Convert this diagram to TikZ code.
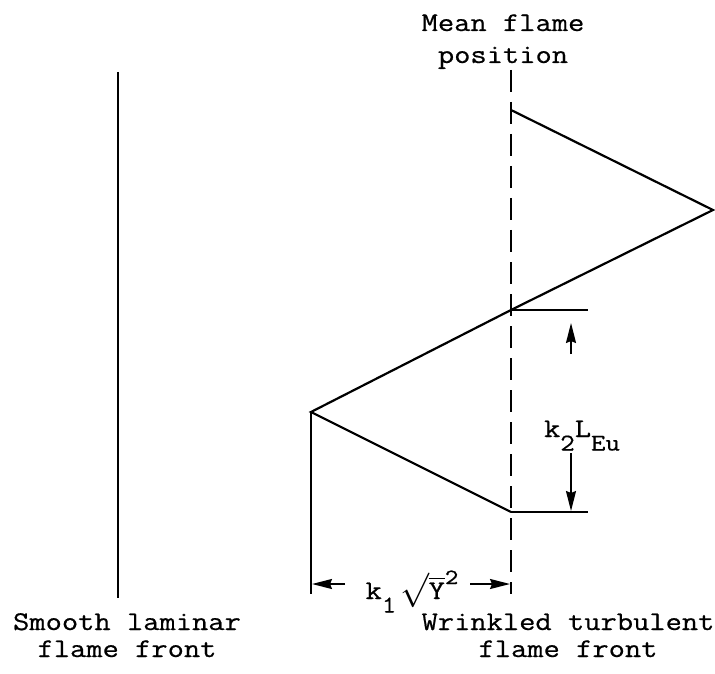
\documentclass[tikz,border=0pt]{standalone}
\usepackage{amsmath}
\usepackage{fontspec}
\setmonofont{Latin Modern Mono}[FakeStretch=1.17,FakeBold=0.6]
\usetikzlibrary{positioning,arrows.meta}
\newcommand{\lowsub}[1]{\raisebox{-0.5em}{\fontsize{12}{12}\selectfont #1}}
\newcommand{\highsup}[1]{\raisebox{0.55em}{\fontsize{11}{11}\selectfont #1}}

\begin{document}
\begin{tikzpicture}[x=0.5pt, y=-0.5pt, font=\ttfamily\fontsize{13.5}{13.5}\selectfont]
                \tikzstyle{front} = [line width=1.1pt]
                \tikzstyle{mean} = [line width=1pt, dash pattern=on 11pt off 5pt]
                \tikzstyle{dim} = [line width=0.9pt]
                \tikzstyle{arrow} = [line width=0.9pt,-{Stealth[length=10pt,width=5pt,inset=1pt]}]
                \tikzstyle{label} = [align=center, inner sep=0pt]
                \useasboundingbox (0,0) rectangle (715,673);

                % flame fronts
                \coordinate (lamtop) at (118,72);
                \coordinate (lambot) at (118,598);
                \coordinate (meantop) at (511,70);
                \coordinate (meanbot) at (511,594);
                \coordinate (zA) at (511,110);
                \coordinate (zB) at (713,210);
                \coordinate (zC) at (511,310);
                \coordinate (zD) at (311,412);
                \coordinate (zE) at (511,512);
                \coordinate (zDbot) at (311,594);

                \draw [front] (lamtop) -- (lambot);
                \draw [mean] (meantop) -- (meanbot);
                \draw [front, line join=miter] (zA) -- (zB) -- (zC) -- (zD) -- (zE);

                % dimension k2 L_Eu
                \coordinate (ktop) at (588,310);
                \coordinate (kbot) at (588,512);
                \draw [dim] (zC) -- (ktop);
                \draw [dim] (zE) -- (kbot);
                \node (keu) [label, anchor=base] at (582,437) {k\lowsub{2}L\lowsub{Eu}};
                \coordinate (uptip) at (571,323);
                \coordinate (uptail) at (571,354);
                \coordinate (dntip) at (571,511);
                \coordinate (dntail) at (571,453);
                \draw [arrow] (uptail) -- (uptip);
                \draw [arrow] (dntail) -- (dntip);

                % dimension k1 sqrt(Y^2)
                \draw [dim] (zD) -- (zDbot);
                \node (ky) [label, anchor=base] at (412,599) {k\lowsub{1}\,{\fontsize{17}{17}\selectfont$\surd$}\kern-0.5pt$\overline{\text{Y}}$\highsup{2}};
                \coordinate (ltail) at (345,584);
                \coordinate (ltip) at (312,584);
                \coordinate (rtail) at (470,584);
                \coordinate (rtip) at (510,584);
                \draw [arrow] (ltail) -- (ltip);
                \draw [arrow] (rtail) -- (rtip);

                % labels
                \node (meanlbl) [label, anchor=base, font=\ttfamily\fontsize{13.5}{16}\selectfont] at (503,63) {Mean flame\\position};
                \node (smooth) [label, anchor=base] at (127,657) {Smooth laminar\\flame front};
                \node (wrinkle) [label, anchor=base] at (568,657) {Wrinkled turbulent\\flame front};
\end{tikzpicture}
\end{document}
